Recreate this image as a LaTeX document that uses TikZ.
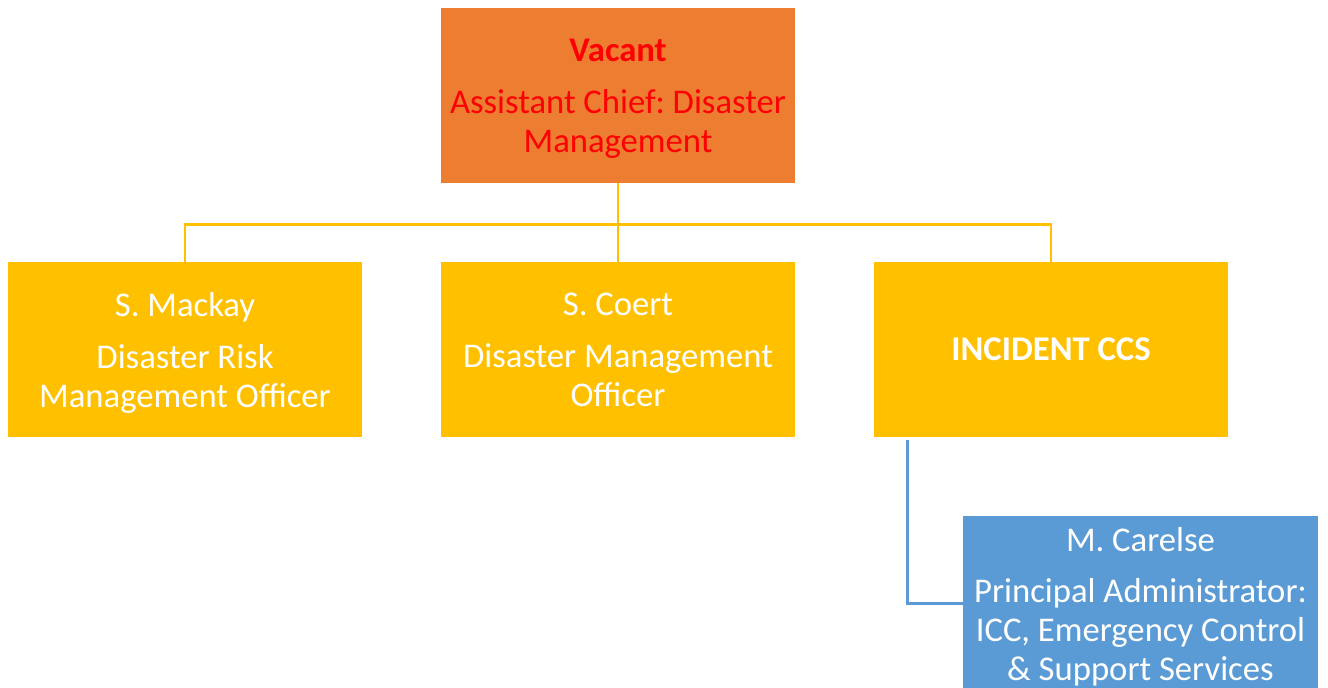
\documentclass[tikz,border=0pt]{standalone}
\usepackage{fontspec}
\setmainfont{Carlito}
\definecolor{orgbox}{HTML}{ED7D31}
\definecolor{goldbox}{HTML}{FFC000}
\definecolor{bluebox}{HTML}{5B9BD5}
\definecolor{redtxt}{HTML}{FF0000}
\begin{document}
\frenchspacing
\begin{tikzpicture}[x=0.75pt,y=-0.75pt,
  box/.style={rectangle, inner sep=0pt, minimum width=265.5pt, minimum height=131.25pt},
  gold/.style={box, fill=goldbox},
  txt/.style={inner sep=0pt, align=center, text=white, yshift=-2.25pt, font=\fontsize{26}{29.25}\selectfont},
  yline/.style={draw=goldbox, line width=1.9pt},
  bline/.style={draw=bluebox, line width=1.9pt}]
\useasboundingbox (0,0) rectangle (1328,688);
\node[box, fill=orgbox] (top) at (618,95.5) {};
\node[txt, text=redtxt] (topt) at (top) {\textbf{Vacant}\\[9.75pt]Assistant Chief: Disaster\\Management};
\node[gold] (left) at (185,349.5) {};
\node[txt] (leftt) at (left) {S. Mackay\\[9.75pt]Disaster Risk\\Management Officer};
\node[gold] (mid) at (618,349.5) {};
\node[txt, yshift=2.25pt] (midt) at (mid) {S. Coert\\[9.75pt]Disaster Management\\Officer};
\node[gold] (right) at (1051,349.5) {};
\node[txt, yshift=2.25pt] (rightt) at (right) {\textbf{INCIDENT CCS}};
\node[box, fill=bluebox, minimum width=266.25pt] (bot) at (1140.5,603.5) {};
\node[txt] (bott) at (bot) {M. Carelse\\[9pt]Principal Administrator:\\ICC, Emergency Control\\\& Support Services};
\draw[yline] (top.south) -- (mid.north);
\draw[yline] (top.south) -- ++(0,41) -| (left.north);
\draw[yline] (top.south) -- ++(0,41) -| (right.north);
\draw[bline] ([xshift=25.5pt,yshift=-2pt]right.south west) |- (bot.west);
\end{tikzpicture}
\end{document}
